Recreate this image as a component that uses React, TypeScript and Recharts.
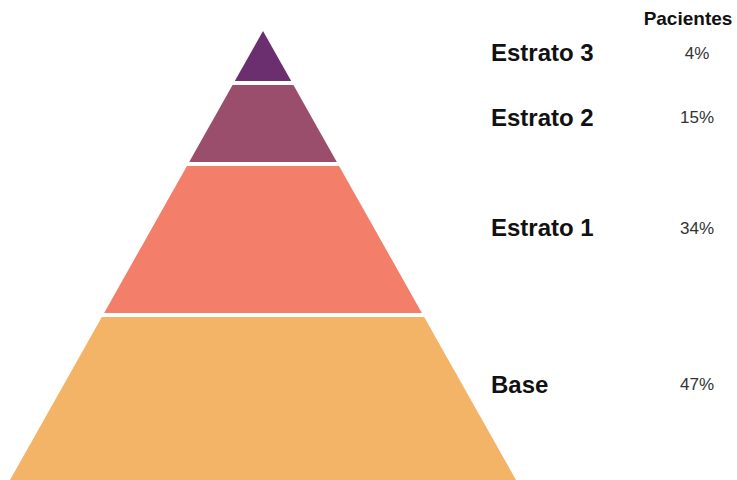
import React from "react";
import { BarChart, Bar, XAxis, YAxis, LabelList } from "recharts";

// Layers from bottom to top
const layers = ["Base", "Estrato 1", "Estrato 2", "Estrato 3"];
const patients = [47, 34, 15, 4]; // % pacientes
const thickness = [165, 151, 81, 52]; // vertical size of each layer (relative units)
const colors = ["#f3b468", "#f37f6b", "#9b4d6c", "#6b2e6e"];
const header = "Pacientes";

const W = 737;
const H = 480;
const TOP = 31;
const BOTTOM = 0;
const LEFT = 10;
const RIGHT = 221;
const GAP = 2;

const total = thickness.reduce((a, b) => a + b, 0);
const row: Record<string, number | string> = { name: "pyramid" };
layers.forEach((l, i) => {
  row[l] = thickness[i];
});
const data = [row];

const FONT = "'Liberation Sans', Arial, sans-serif";

function makeShape(i: number) {
  return (props: any) => {
    const { x, y, width, height } = props;
    const apexY = TOP;
    const baseY = H - BOTTOM;
    const cx = x + width / 2;
    const half = (py: number) => ((width / 2) * (py - apexY)) / (baseY - apexY);
    const top = i === layers.length - 1 ? y : y + GAP;
    const bot = i === 0 ? y + height : y + height - GAP;
    const pts = [
      [cx - half(top), top],
      [cx + half(top), top],
      [cx + half(bot), bot],
      [cx - half(bot), bot],
    ]
      .map((p) => p.join(","))
      .join(" ");
    return <polygon points={pts} fill={colors[i]} />;
  };
}

function makeLabel(i: number) {
  return (props: any) => {
    const { y, height } = props;
    const cy = y + height * 0.42;
    return (
      <g>
        <text
          x={491}
          y={cy}
          dy="0.36em"
          fontFamily={FONT}
          fontWeight="bold"
          fontSize={24}
          fill="#111"
        >
          {layers[i]}
        </text>
        <text
          x={697}
          y={cy}
          dy="0.36em"
          textAnchor="middle"
          fontFamily={FONT}
          fontSize={17}
          fill="#333"
        >
          {patients[i] + "%"}
        </text>
      </g>
    );
  };
}

export default function App() {
  return (
    <div style={{ position: "absolute", left: 0, top: 0, width: W, height: H, background: "#fff" }}>
      <BarChart
        width={W}
        height={H}
        data={data}
        margin={{ top: TOP, bottom: BOTTOM, left: LEFT, right: RIGHT }}
        barCategoryGap={0}
      >
        <XAxis dataKey="name" hide />
        <YAxis hide domain={[0, total]} />
        {layers.map((l, i) => (
          <Bar
            key={l}
            dataKey={l}
            stackId="p"
            isAnimationActive={false}
            shape={makeShape(i)}
          >
            <LabelList dataKey={l} content={makeLabel(i)} />
          </Bar>
        ))}
        <text
          x={688}
          y={18}
          dy="0.36em"
          textAnchor="middle"
          fontFamily={FONT}
          fontWeight="bold"
          fontSize={19}
          fill="#111"
        >
          {header}
        </text>
      </BarChart>
    </div>
  );
}
